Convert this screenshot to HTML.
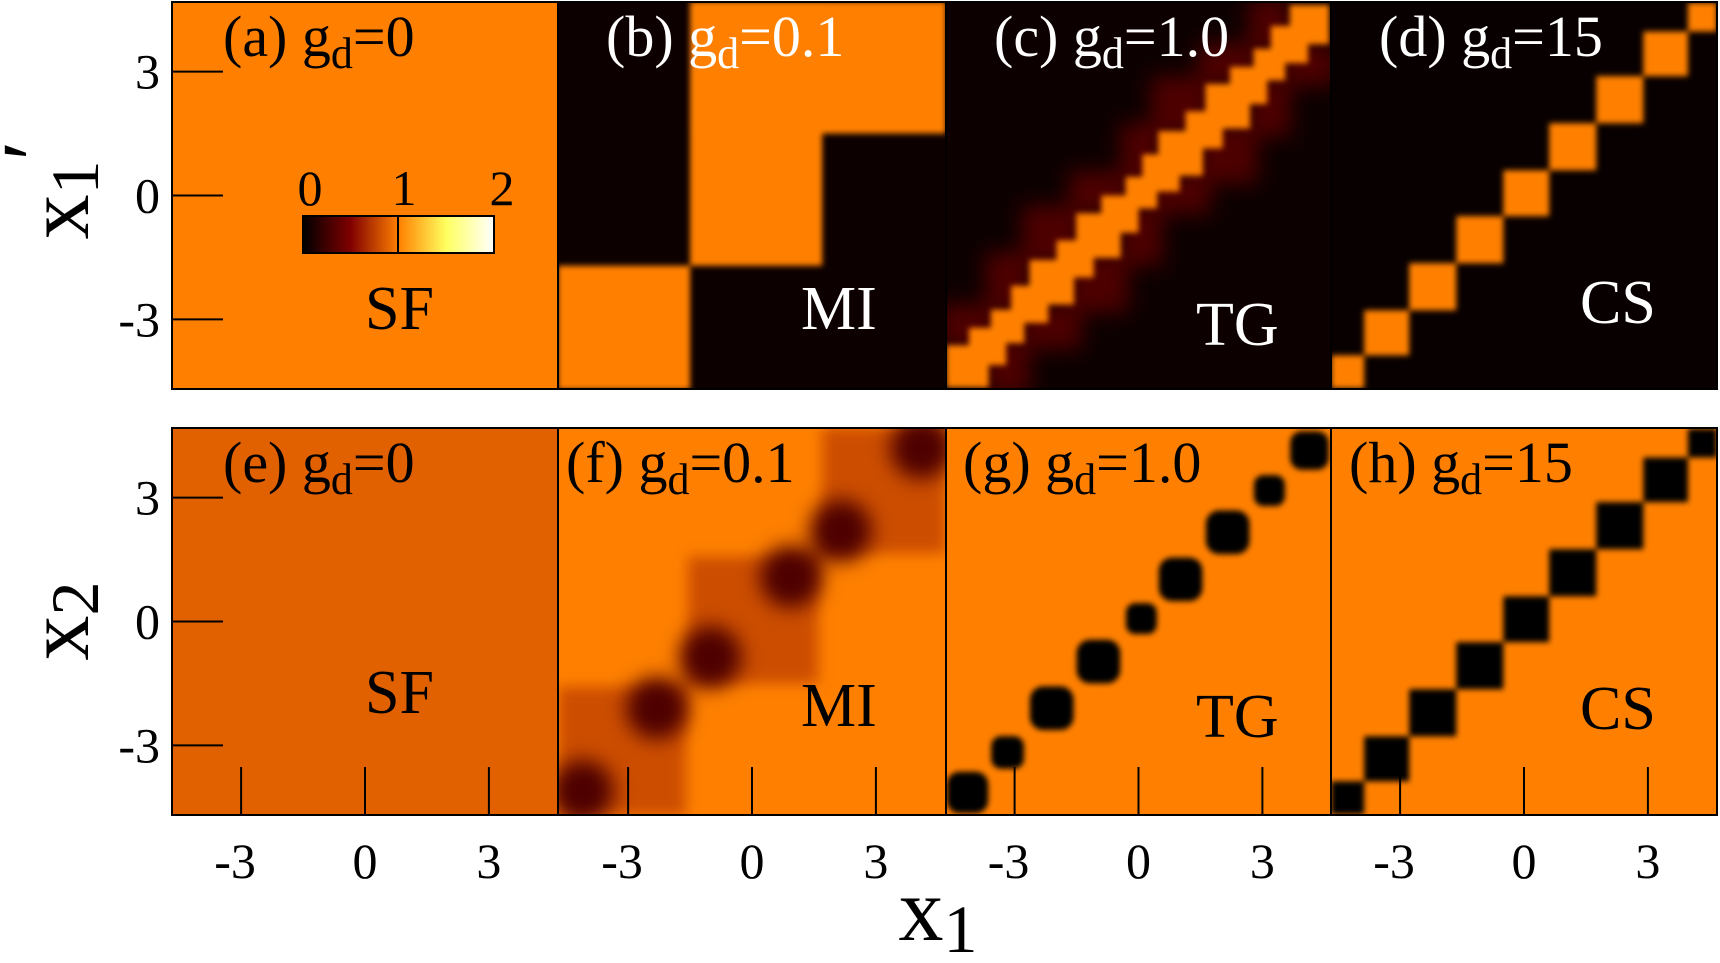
<!DOCTYPE html>
<html><head><meta charset="utf-8"><style>
html,body{margin:0;padding:0;background:#fff;}
svg{display:block;}
svg text{font-family:"Liberation Serif","DejaVu Serif","Times New Roman",serif !important;}
</style></head><body>
<svg id="fig" width="1720" height="963" viewBox="0 0 1720 963" xmlns="http://www.w3.org/2000/svg" font-family="Liberation Serif, DejaVu Serif, serif">
<defs>
<filter id="blur" x="-5%" y="-5%" width="110%" height="110%"><feGaussianBlur stdDeviation="3"/></filter>
<filter id="blur2" x="-5%" y="-5%" width="110%" height="110%"><feGaussianBlur stdDeviation="7"/></filter>
<filter id="blur3" x="-5%" y="-5%" width="110%" height="110%"><feGaussianBlur stdDeviation="10"/></filter>
<linearGradient id="cbar" x1="0" x2="1" y1="0" y2="0">
<stop offset="0" stop-color="#000"/><stop offset="0.25" stop-color="#800000"/><stop offset="0.5" stop-color="#ff8000"/><stop offset="0.75" stop-color="#ffff60"/><stop offset="1" stop-color="#fff"/>
</linearGradient>
</defs>
<g id="panels"></g>
<g id="overlay"></g>
</svg>
<script>
// ---- data (x, x' in units; values on 0..2 colormap) ----
const panelIds = ['a','b','c','d','e','f','g','h'];
const panelGd = ['0','0.1','1.0','15','0','0.1','1.0','15'];
const phaseLabels = ['SF','MI','TG','CS','SF','MI','TG','CS'];
const backgroundValues = [1.0, 0.05, 0.05, 0.03, 0.88, 1.0, 1.0, 1.0];
// MI rectangles [x0,x1,y0,y1,value]
const miTopRects = [[-1.5,1.7,-1.7,4.7,1.0],[-4.7,-1.5,-4.7,-1.7,1.0],[-1.5,4.7,1.5,4.7,1.0]];
const miBottomRects = [[1.7,4.7,1.65,4.7,0.8],[-1.55,1.6,-1.5,1.57,0.8],[-4.7,-1.6,-4.7,-1.58,0.8]];
const miBottomSpotsX = [2.15,4.1,0.94,-1.0,-2.3,-4.1];
const miBottomSpotsY = [2.2,4.2,1.08,-0.86,-2.1,-4.1];
const miSpotValue = 0.3;
// TG blobs along diagonal
const tgCenters = [-4.14,-3.17,-2.1,-0.97,0.07,1.02,2.16,3.17,4.14];
const tgWidths = [1.14,0.9,1.2,1.2,0.85,1.2,1.2,0.85,1.06];
const tgNeighborValue = 0.3;
// CS cell boundaries along diagonal
const csBounds = [-4.67,-3.87,-2.78,-1.64,-0.5,0.61,1.75,2.89,3.97,4.67];
const xTicks = [-3,0,3];
const yTicks = [3,0,-3];

// ---- layout ----
const colEdges=[172,558,946,1331,1717];
const rowTop=[2,428], H=387;
const UNIT=41.3;
const NS='http://www.w3.org/2000/svg';
const FONT='Liberation Serif, DejaVu Serif, serif';
function cmap(v){
  const stops=[[0,[0,0,0]],[0.5,[128,0,0]],[1,[255,128,0]],[1.5,[255,255,96]],[2,[255,255,255]]];
  v=Math.max(0,Math.min(2,v));
  for(let i=0;i<stops.length-1;i++){const a=stops[i],b=stops[i+1];
    if(v<=b[0]){const t=(v-a[0])/(b[0]-a[0]);const c=a[1].map((q,k)=>Math.round(q+(b[1][k]-q)*t));return `rgb(${c[0]},${c[1]},${c[2]})`;}}
  return '#fff';
}
function mk(tag,attrs,parent){const e=document.createElementNS(NS,tag);for(const k in attrs)e.setAttribute(k,attrs[k]);parent.appendChild(e);return e;}
const root=document.getElementById('panels');
const ov=document.getElementById('overlay');

panelIds.forEach((id,i)=>{
  const col=i%4,row=Math.floor(i/4);
  const x0=colEdges[col],x1=colEdges[col+1],y0=rowTop[row];
  const W=x1-x0;
  const cx=x0+W/2, cy=y0+H/2;
  const sx=v=>cx+v*UNIT, sy=v=>cy-v*UNIT;
  const g=mk('g',{},root);
  
  
  const cp=mk('clipPath',{id:'clip'+id},g);
  mk('rect',{x:x0,y:y0,width:W,height:H},cp);
  const inner=mk('g',{'clip-path':'url(#clip'+id+')'},g);
  const bg=mk('rect',{x:x0,y:y0,width:W,height:H,fill:cmap(backgroundValues[i])},inner);
  
  
  const rect=(a,b,c,d,v,par,nm)=>{const r=mk('rect',{x:sx(Math.min(a,b)),y:sy(Math.max(c,d)),width:Math.abs(b-a)*UNIT,height:Math.abs(d-c)*UNIT,fill:cmap(v)},par);
    
    return r;};
  if(id==='b'){const bl=mk('g',{filter:'url(#blur)'},inner);miTopRects.forEach(r=>rect(r[0],r[1],r[2],r[3],r[4],bl,'mi-block'));}
  if(id==='f'){const bl=mk('g',{filter:'url(#blur2)'},inner);miBottomRects.forEach(r=>rect(r[0],r[1],r[2],r[3],r[4],bl,'mi-block'));
    const bl3=mk('g',{filter:'url(#blur3)'},inner);
    miBottomSpotsX.forEach((x,k)=>{const c=mk('circle',{cx:sx(x),cy:sy(miBottomSpotsY[k]),r:0.75*UNIT,fill:cmap(miSpotValue)},bl3);
      
      });}
  if(id==='c'){const bl=mk('g',{filter:'url(#blur3)'},inner);
    tgCenters.forEach((c,k)=>{const w=tgWidths[k];
      if(k<tgCenters.length-1){const c2=tgCenters[k+1],w2=tgWidths[k+1];
        rect(c-w*0.6,c+w*0.6,c2-w2*0.6,c2+w2*0.6,tgNeighborValue,bl,'tg-neighbor');
        rect(c2-w2*0.6,c2+w2*0.6,c-w*0.6,c+w*0.6,tgNeighborValue,bl,'tg-neighbor');}});
    const bl2=mk('g',{filter:'url(#blur)'},inner);
    tgCenters.forEach((c,k)=>{const w=tgWidths[k]*0.9;rect(c-w/2,c+w/2,c-w/2,c+w/2,1.0,bl2,'tg-diagonal');
      if(k<tgCenters.length-1){const m=(c+tgCenters[k+1])/2,h=0.45;rect(m-h,m+h,m-h,m+h,1.0,bl2,'tg-link');}});}
  if(id==='g'){const bl=mk('g',{filter:'url(#blur)'},inner);
    tgCenters.forEach((c,k)=>{const w=tgWidths[k]*0.88;const r=rect(c-w/2,c+w/2,c-w/2,c+w/2,0.0,bl,'tg-blob');r.setAttribute('rx',w*UNIT*0.3);});}
  if(id==='d'||id==='h'){const bl=mk('g',{filter:'url(#blur)'},inner);
    for(let k=0;k<csBounds.length-1;k++)rect(csBounds[k],csBounds[k+1],csBounds[k],csBounds[k+1],id==='d'?1.0:0.0,bl,'cs-cell');}
  // frame
  const fr=mk('rect',{x:x0,y:y0,width:W,height:H,fill:'none',stroke:'#000','stroke-width':2},ov);
  
  
  // labels
  const dark = ['b','c','d'].includes(id);
  const lx = row===0?x0+(col===0?51:48):x0+[51,8,17,18][col];
  const lt=mk('text',{x:lx,y:y0+54,'font-size':58,'font-family':FONT,fill:dark?'#fff':'#000'},ov);
  
  
  lt.innerHTML='('+id+') g<tspan font-size="44" dy="12">d</tspan><tspan dy="-12">='+panelGd[i]+'</tspan>';
  const phx=[365,801,1196,1580][col], phy=row===0?[329,329,345,323][col]:[713,726,737,729][col];
  const pt=mk('text',{x:phx,y:phy,'font-size':62,'font-family':FONT,fill:dark?'#fff':'#000'},ov);
  
  
  pt.textContent=phaseLabels[i];
  // ticks
  if(col===0){yTicks.forEach(t=>{const l=mk('line',{x1:x0,x2:x0+51,y1:sy(t),y2:sy(t),stroke:'#000','stroke-width':2},ov);
    
    
    const tl=mk('text',{x:160,y:sy(t)+17,'font-size':50,'font-family':FONT,'text-anchor':'end'},ov);
    
    
    tl.textContent=String(t);});}
  if(row===1){xTicks.forEach(t=>{const l=mk('line',{x1:sx(t),x2:sx(t),y1:y0+H-48,y2:y0+H,stroke:'#000','stroke-width':2},ov);
    
    
    const tl=mk('text',{x:sx(t)-(t<0?6:0),y:878,'font-size':50,'font-family':FONT,'text-anchor':'middle'},ov);
    
    
    tl.textContent=String(t);});}
});
</script>
<script>
const fig=document.getElementById('fig');
const NS2='http://www.w3.org/2000/svg';
const g2=document.createElementNS(NS2,'g');
g2.setAttribute('font-family','Liberation Serif, DejaVu Serif, serif');
fig.appendChild(g2);
g2.innerHTML=`
<g>
<rect x="303" y="216" width="191" height="37" fill="url(#cbar)" stroke="#000" stroke-width="2"/>
<line x1="398" y1="216" x2="398" y2="253" stroke="#000" stroke-width="2"/>
<text x="310" y="205" font-size="50" text-anchor="middle">0</text>
<text x="404" y="205" font-size="50" text-anchor="middle">1</text>
<text x="502" y="205" font-size="50" text-anchor="middle">2</text>
</g>
<text transform="translate(88,190) rotate(-90)" font-size="90" text-anchor="middle">x<tspan font-size="68" dy="10">1</tspan><tspan dy="-34">′</tspan></text>
<text transform="translate(88,621) rotate(-90)" font-size="90" text-anchor="middle">x<tspan font-size="68" dy="10">2</tspan></text>
<text x="938" y="940" font-size="90" text-anchor="middle">x<tspan font-size="68" dy="12">1</tspan></text>`;
</script>
</body></html>
